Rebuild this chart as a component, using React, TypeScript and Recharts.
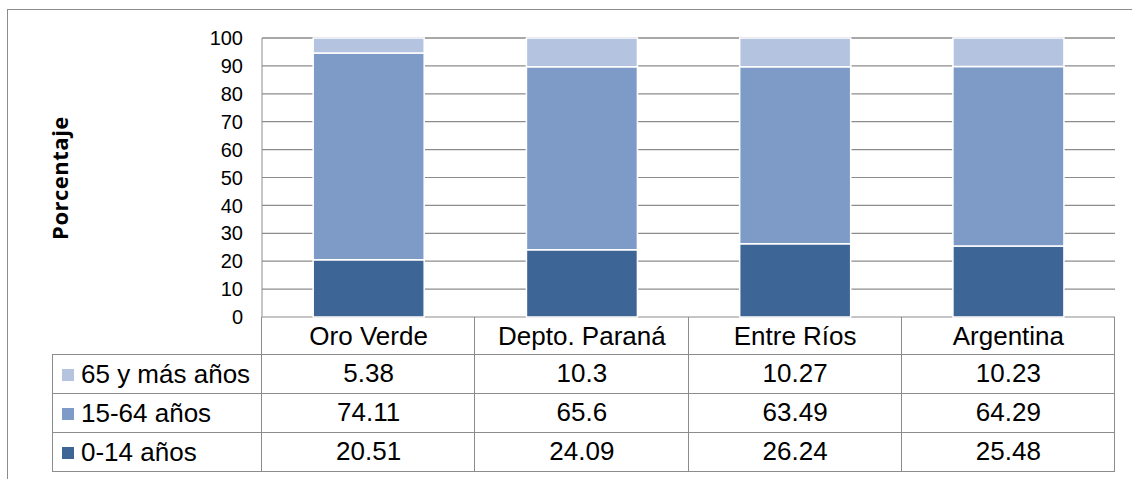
import React from 'react';
import { BarChart, Bar, XAxis, YAxis, CartesianGrid } from 'recharts';

const categories = ['Oro Verde', 'Depto. Paraná', 'Entre Ríos', 'Argentina'];
const age0to14 = [20.51, 24.09, 26.24, 25.48];
const age15to64 = [74.11, 65.6, 63.49, 64.29];
const age65plus = [5.38, 10.3, 10.27, 10.23];
const yTicks = [0, 10, 20, 30, 40, 50, 60, 70, 80, 90, 100];

const SERIES = [
  { key: 'a0', name: '0-14 años', values: age0to14, color: '#3D6596' },
  { key: 'a15', name: '15-64 años', values: age15to64, color: '#7E9BC8' },
  { key: 'a65', name: '65 y más años', values: age65plus, color: '#B4C3DF' },
];

// table rows, top to bottom (same order as the original data table)
const TABLE_ROWS = [SERIES[2], SERIES[1], SERIES[0]];

const data = categories.map((name, i) => ({
  name,
  a0: age0to14[i],
  a15: age15to64[i],
  a65: age65plus[i],
}));

const W = 1132;
const H = 479;
const PLOT_LEFT = 262;
const PLOT_RIGHT = 1115;
const PLOT_TOP = 38;
const PLOT_BOTTOM = 317;
const HEAD_H = 38;
const ROW_H = 39;
const TABLE_LEFT = 53;
const LINE = '#8C8C8C';
const FONT = '"Liberation Sans", Arial, sans-serif';

const tableBottom = PLOT_BOTTOM + HEAD_H + ROW_H * TABLE_ROWS.length;
const colW = (PLOT_RIGHT - PLOT_LEFT) / categories.length;

const App: React.FC = () => {
  const hLines = [PLOT_BOTTOM + HEAD_H, ...TABLE_ROWS.map((_, i) => PLOT_BOTTOM + HEAD_H + ROW_H * (i + 1))];
  const vLines = categories.map((_, i) => PLOT_LEFT + colW * (i + 1));

  return (
    <div style={{ position: 'absolute', left: 0, top: 0, width: W, height: H, overflow: 'hidden', background: '#fff', fontFamily: FONT }}>
      <BarChart
        width={W}
        height={H}
        data={data}
        margin={{ top: PLOT_TOP, right: W - PLOT_RIGHT, bottom: H - tableBottom, left: 0 }}
        barCategoryGap="24%"
      >
        <CartesianGrid vertical={false} stroke={LINE} strokeWidth={1.2} />
        <YAxis
          width={PLOT_LEFT}
          domain={[0, 100]}
          ticks={yTicks}
          interval={0}
          tickLine={false}
          tickSize={0}
          tickMargin={19}
          axisLine={{ stroke: LINE }}
          tick={{ fontSize: 20, fill: '#000' }}
        />
        <XAxis
          xAxisId={0}
          dataKey="name"
          height={HEAD_H}
          interval={0}
          axisLine={false}
          tickLine={false}
          tickSize={0}
          tickMargin={10}
          tick={{ fontSize: 26, fill: '#000' }}
        />
        {TABLE_ROWS.map((s, r) => (
          <XAxis
            key={s.key}
            xAxisId={r + 1}
            dataKey="name"
            height={ROW_H}
            interval={0}
            axisLine={false}
            tickLine={false}
            tickSize={0}
            tickMargin={9}
            tick={{ fontSize: 26, fill: '#000' }}
            tickFormatter={(_v: string, i: number) => String(s.values[i])}
          />
        ))}
        {SERIES.map((s) => (
          <Bar
            key={s.key}
            dataKey={s.key}
            name={s.name}
            stackId="pop"
            xAxisId={0}
            fill={s.color}
            stroke="#fff"
            strokeWidth={1.5}
            isAnimationActive={false}
          />
        ))}
      </BarChart>

      {/* outer chart frame (cropped at right and bottom) */}
      <div style={{ position: 'absolute', left: 7, top: 9, width: W, height: H, borderTop: `1.5px solid ${LINE}`, borderLeft: `1.5px solid ${LINE}`, pointerEvents: 'none' }} />

      {/* axis title */}
      <div
        style={{
          position: 'absolute',
          left: 59,
          top: 178,
          transform: 'translate(-50%, -50%) rotate(-90deg)',
          fontFamily: '"Open Sans", sans-serif',
          fontWeight: 700,
          fontSize: 22,
          letterSpacing: 0.5,
          whiteSpace: 'nowrap',
          color: '#000',
        }}
      >
        Porcentaje
      </div>

      {/* data table grid */}
      {hLines.map((y) => (
        <div key={`h${y}`} style={{ position: 'absolute', left: TABLE_LEFT, top: y - 1, width: PLOT_RIGHT - TABLE_LEFT, height: 0, borderTop: `1.5px solid ${LINE}` }} />
      ))}
      <div style={{ position: 'absolute', left: TABLE_LEFT - 1, top: PLOT_BOTTOM + HEAD_H - 1, width: 0, height: tableBottom - PLOT_BOTTOM - HEAD_H + 1, borderLeft: `1.5px solid ${LINE}` }} />
      {[PLOT_LEFT, ...vLines].map((x) => (
        <div key={`v${x}`} style={{ position: 'absolute', left: x - 1, top: PLOT_BOTTOM, width: 0, height: tableBottom - PLOT_BOTTOM, borderLeft: `1.5px solid ${LINE}` }} />
      ))}

      {/* row headers with legend keys */}
      {TABLE_ROWS.map((s, r) => (
        <div
          key={s.key}
          style={{
            position: 'absolute',
            left: 62,
            top: PLOT_BOTTOM + HEAD_H + ROW_H * r,
            height: ROW_H,
            display: 'flex',
            alignItems: 'center',
            fontSize: 26,
            color: '#000',
            whiteSpace: 'nowrap',
          }}
        >
          <span style={{ display: 'inline-block', width: 12, height: 12, background: s.color, marginRight: 7 }} />
          {s.name}
        </div>
      ))}
    </div>
  );
};

export default App;
